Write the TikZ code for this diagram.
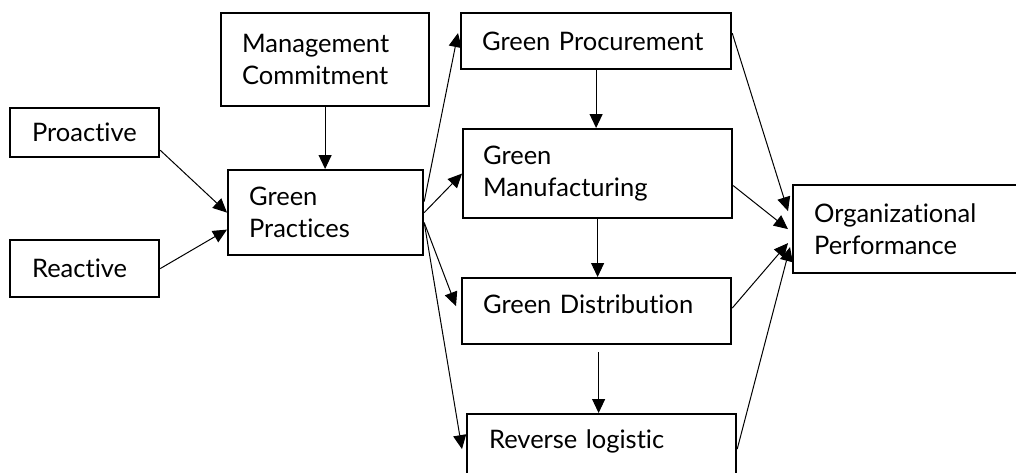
\documentclass[tikz,border=0pt]{standalone}
\usepackage{fontspec}
\setmainfont{Lato}[Ligatures=NoCommon]
\usetikzlibrary{arrows.meta}
\begin{document}
\begin{tikzpicture}[x=1pt,y=-1pt,
  box/.style={draw, line width=2.2pt, anchor=north west, align=left, inner ysep=0pt,
    font=\fontsize{25.5}{32}\selectfont},
  link/.style={line width=1pt, -{Triangle[length=14pt,width=13pt]}}]
\useasboundingbox (0,0) rectangle (1016,472);
% left column and the central node
\node[box, inner xsep=21pt, text width=166pt, minimum height=93pt] (commit) at (220,12) {Management\\Commitment};
\node[box, inner xsep=22pt, text width=105pt, minimum height=49pt] (proactive) at (9,107) {Proactive};
\node[box, inner xsep=22pt, text width=105pt, minimum height=57pt] (reactive) at (9,239) {Reactive};
\node[box, inner xsep=21pt, text width=153pt, minimum height=85pt] (practices) at (227,169) {Green\\Practices};
% the four practices
\node[box, inner xsep=21pt, text width=228pt, minimum height=56pt] (procure) at (460,12) {Green Procurement};
\node[box, inner xsep=20pt, text width=229pt, minimum height=89pt] (manufact) at (462,128) {Green\\Manufacturing};
\node[box, inner xsep=21pt, text width=227pt, minimum height=66pt, text height=18pt, text depth=13.6pt] (distrib) at (461,277) {Green Distribution};
\node[box, inner xsep=22pt, text width=225pt, minimum height=70pt, text height=18pt, text depth=18.6pt] (reverse) at (466,413) {Reverse logistic};
% outcome
\node[box, inner xsep=21pt, text width=196pt, minimum height=88pt] (perform) at (792,184) {Organizational\\Performance};

\draw[link] (commit.south) -- (commit.south |- practices.north);
\draw[link] ([yshift=8pt]proactive.south east) -- (practices.west);
\draw[link] (reactive.east) -- ([yshift=-17pt]practices.west);

\draw[link] ([yshift=11pt]practices.east) -- ([xshift=-2pt,yshift=8pt]procure.west);
\draw[link] (practices.east) -- (manufact.west);
\draw[link] ([yshift=-10pt]practices.east) -- ([xshift=-5pt,yshift=5pt]distrib.west);
\draw[link] ([yshift=-10pt]practices.east) -- ([xshift=-4pt]reverse.west);

\draw[link] (procure.south) -- (procure.south |- manufact.north);
\draw[link] (manufact.south) -- (manufact.south |- distrib.north);
\draw[link] ([xshift=2pt,yshift=-7pt]distrib.south) -- ([xshift=2pt]distrib.south |- reverse.north);

\draw[link] ([yshift=8pt]procure.east) -- ([xshift=-4pt,yshift=18pt]perform.west);
\draw[link] ([yshift=-12pt]manufact.east) -- ([xshift=-4pt]perform.west);
\draw[link] ([yshift=3pt]distrib.east) -- ([xshift=-4pt,yshift=-14pt]perform.west);
\draw[link] (reverse.east) -- ([xshift=-2pt,yshift=-18pt]perform.west);
\end{tikzpicture}
\end{document}
